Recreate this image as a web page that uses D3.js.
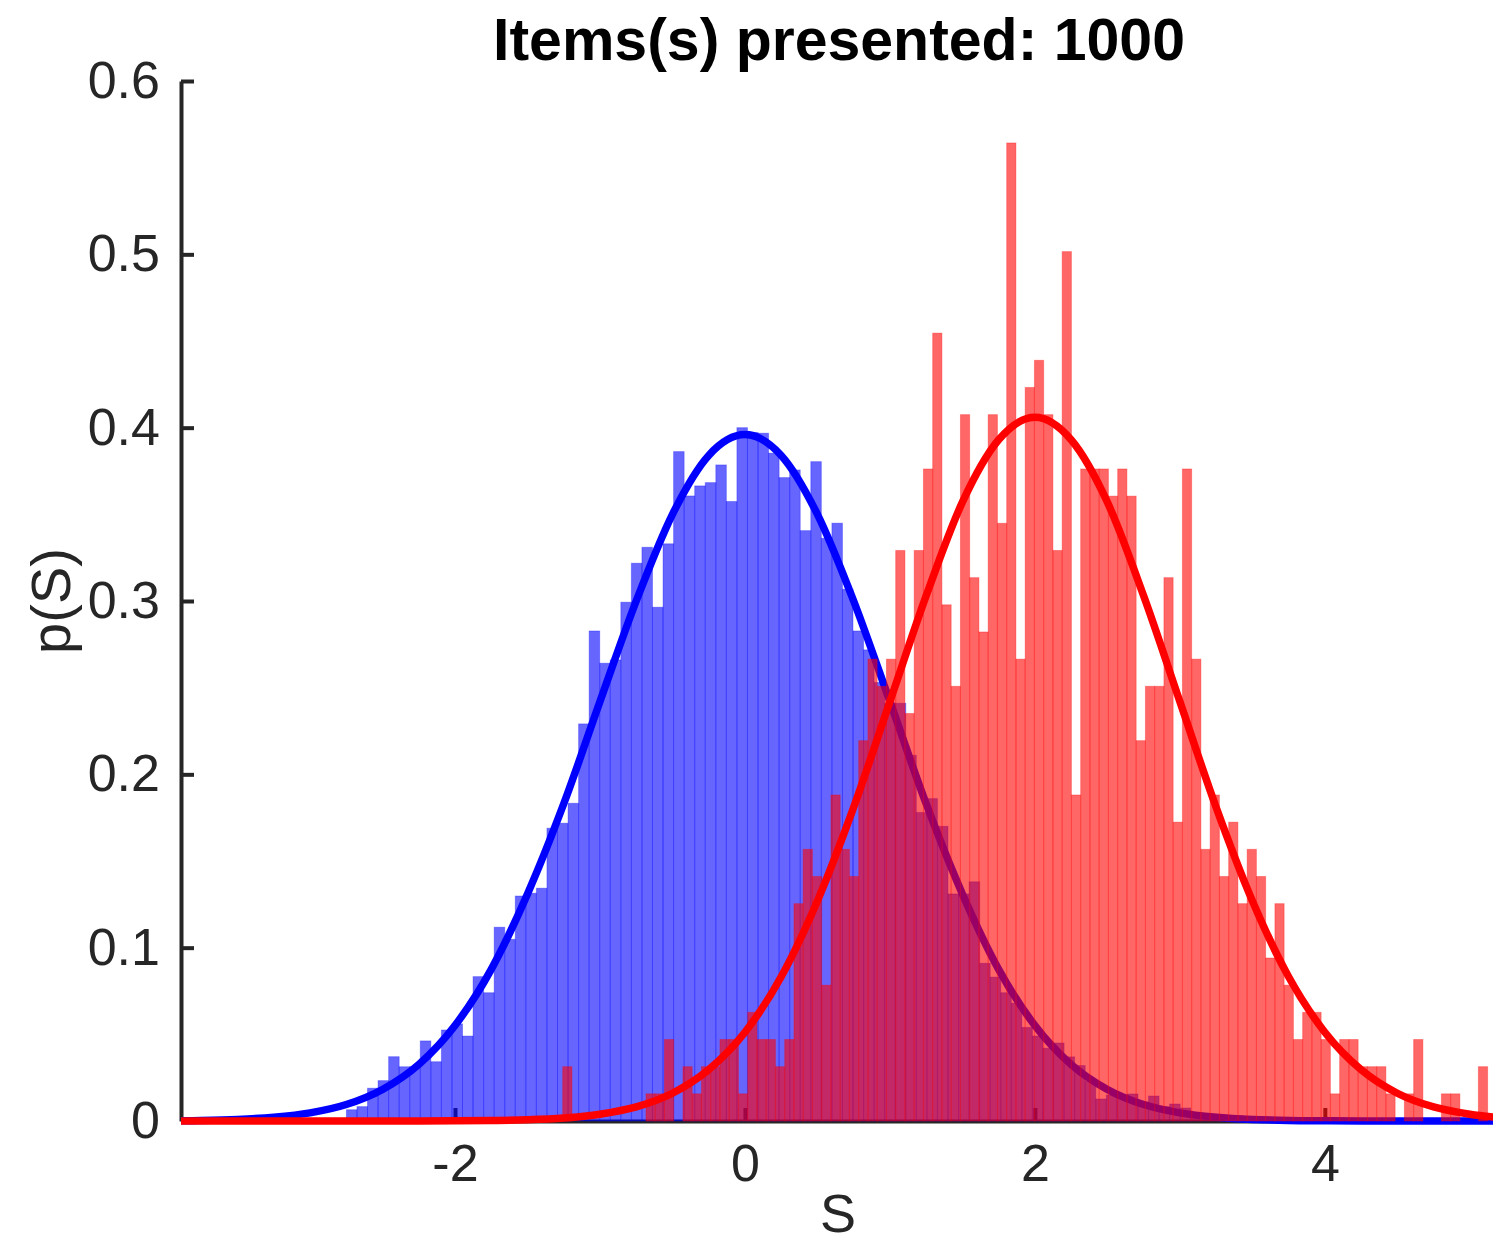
<!DOCTYPE html>
<html>
<head>
<meta charset="utf-8">
<script src="https://cdn.jsdelivr.net/npm/d3@7"></script>
<style>
  body { margin: 0; background: #fff; }
  text { font-family: "Liberation Sans", Arial, Helvetica, sans-serif; }
</style>
</head>
<body>
<svg id="chart" width="1493" height="1246"></svg>
<script>
// axis limits and ticks
var xLimits = [-3.89, 5.16];
var yLimits = [0, 0.6];
var xTicks = [-2, 0, 2, 4];
var yTicks = [0, 0.1, 0.2, 0.3, 0.4, 0.5, 0.6];

// blue histogram (pdf heights), 0.0728 wide bins starting at -2.749
var blueStart = -2.749, blueWidth = 0.0728;
var blueHeights = [
  0.0065, 0.0083, 0.0189, 0.0233, 0.0371, 0.0313, 0.0313, 0.0462, 0.0342, 0.0525,
  0.056, 0.049, 0.0833, 0.074, 0.1118, 0.1048, 0.1298, 0.1314, 0.1343, 0.1689,
  0.1718, 0.1833, 0.2291, 0.2827, 0.2641, 0.266, 0.2993, 0.3218, 0.331, 0.2964,
  0.333, 0.3862, 0.3606, 0.3664, 0.3683, 0.3785, 0.3574, 0.400, 0.3972, 0.3968,
  0.3853, 0.3712, 0.3756, 0.3406, 0.3804, 0.3362, 0.3449, 0.3068, 0.2827, 0.2718,
  0.253, 0.241, 0.241, 0.211, 0.178, 0.186, 0.17, 0.131, 0.131, 0.138,
  0.091, 0.083, 0.074, 0.068, 0.054, 0.049, 0.042, 0.045, 0.037, 0.032,
  0.023, 0.0127, 0.015, 0.015, 0.0156, 0.011, 0.0144, 0.0083, 0.0098, 0.0075,
  0.0046, 0.004, 0.0035, 0.003, 0.003, 0.0025, 0.002, 0.002, 0.0015, 0.0012,
  0.001, 0.0008, 0.0006
];

// red histogram (counts out of 1000), 0.0638 wide bins starting at -1.257
var redStart = -1.257, redWidth = 0.0638, redTotal = 1000;
var redCounts = [
  2, 0, 0, 0, 0, 0, 0, 0, 0, 1,
  1, 3, 0, 2, 1, 2, 2, 3, 3, 1,
  4, 3, 3, 2, 3, 8, 10, 9, 5, 12,
  10, 9, 14, 17, 16, 17, 21, 15, 21, 24,
  29, 19, 16, 26, 20, 18, 26, 22, 36, 17,
  27, 28, 26, 21, 32, 12, 24, 24, 24, 23,
  24, 23, 14, 16, 16, 20, 11, 24, 17, 10,
  12, 9, 11, 8, 10, 9, 6, 8, 5, 3,
  4, 4, 3, 1, 3, 3, 2, 2, 2, 1,
  0, 1, 3, 0, 0, 1, 1, 0, 0, 2
];

// fitted density curves, read at 0.25 steps
var curveX = [-4, -3.75, -3.5, -3.25, -3, -2.75, -2.5, -2.25, -2, -1.75,
  -1.5, -1.25, -1, -0.75, -0.5, -0.25, 0, 0.25, 0.5, 0.75,
  1, 1.25, 1.5, 1.75, 2, 2.25, 2.5, 2.75, 3, 3.25,
  3.5, 3.75, 4, 4.25, 4.5, 4.75, 5, 5.25];
var blueCurve = [0.0001, 0.0003, 0.0009, 0.0022, 0.0047, 0.0095, 0.0182, 0.0326, 0.0551, 0.0875,
  0.131, 0.183, 0.242, 0.300, 0.350, 0.384, 0.396, 0.384, 0.350, 0.300,
  0.242, 0.183, 0.131, 0.0875, 0.0551, 0.0326, 0.0182, 0.0095, 0.0047, 0.0022,
  0.0009, 0.0003, 0.0001, 0, 0, 0, 0, 0];
var redCurve = [0, 0, 0, 0, 0, 0, 0, 0, 0.0001, 0.0003,
  0.0007, 0.0017, 0.0039, 0.0081, 0.016, 0.0296, 0.0512, 0.0832, 0.127, 0.181,
  0.242, 0.303, 0.357, 0.393, 0.406, 0.393, 0.357, 0.303, 0.242, 0.181,
  0.127, 0.0832, 0.0512, 0.0296, 0.016, 0.0081, 0.0039, 0.0017];

var svg = d3.select("#chart");
var ink = "#262626";

var x = d3.scaleLinear().domain(xLimits).range([181, 1493]);
var y = d3.scaleLinear().domain(yLimits).range([1121, 81]);

svg.append("defs").append("clipPath").attr("id", "plot")
  .append("rect").attr("x", 181).attr("y", 0).attr("width", 1312).attr("height", 1246);

// axes go underneath the data (ticks point inward)
var yAxis = d3.axisLeft(y).tickValues(yTicks).tickSizeInner(-13).tickSizeOuter(0)
  .tickPadding(21).tickFormat(function(d) { return d === 0 ? "0" : d3.format(".1f")(d); });
var xAxis = d3.axisBottom(x).tickValues(xTicks).tickSizeInner(-13).tickSizeOuter(0)
  .tickPadding(23).tickFormat(function(d) { return String(d); });

var gy = svg.append("g").attr("transform", "translate(181,0)").call(yAxis);
var gx = svg.append("g").attr("transform", "translate(0,1121)").call(xAxis);
[gx, gy].forEach(function(g) {
  g.select(".domain").attr("stroke", ink).attr("stroke-width", 4);
  g.selectAll(".tick line").attr("stroke", ink).attr("stroke-width", 4);
  g.selectAll(".tick text").attr("fill", ink).style("font-size", "52px")
    .style("font-family", "'Liberation Sans', Arial, Helvetica, sans-serif");
});

var plot = svg.append("g").attr("clip-path", "url(#plot)");

function drawBars(heights, start, width, color) {
  var bins = heights.map(function(h, i) {
    return { x0: start + i * width, x1: start + (i + 1) * width, h: h };
  }).filter(function(d) { return d.h > 0; });
  plot.append("g").selectAll("rect").data(bins).join("rect")
    .attr("x", function(d) { return x(d.x0); })
    .attr("width", function(d) { return x(d.x1) - x(d.x0); })
    .attr("y", function(d) { return y(d.h); })
    .attr("height", function(d) { return y(0) - y(d.h); })
    .attr("fill", color).attr("fill-opacity", 0.6)
    .attr("stroke", color).attr("stroke-opacity", 0.3).attr("stroke-width", 1);
}

function drawCurve(values, color) {
  var line = d3.line()
    .x(function(d, i) { return x(curveX[i]); })
    .y(function(d) { return y(d); })
    .curve(d3.curveMonotoneX);
  plot.append("path").datum(values)
    .attr("d", line)
    .attr("fill", "none").attr("stroke", color)
    .attr("stroke-width", 7.5).attr("stroke-linejoin", "round").attr("stroke-linecap", "round");
}

var redHeights = redCounts.map(function(c) { return c / (redTotal * redWidth); });

drawBars(blueHeights, blueStart, blueWidth, "#0000ff");
drawCurve(blueCurve, "#0000ff");
drawBars(redHeights, redStart, redWidth, "#ff0000");
drawCurve(redCurve, "#ff0000");

// title and labels
svg.append("text").attr("x", 839).attr("y", 60).attr("text-anchor", "middle")
  .style("font-size", "59px").style("font-weight", "bold").attr("fill", "#000")
  .text("Items(s) presented: 1000");

svg.append("text").attr("x", 838).attr("y", 1232).attr("text-anchor", "middle")
  .style("font-size", "54px").attr("fill", ink).text("S");

svg.append("text").attr("transform", "translate(70,601) rotate(-90)").attr("text-anchor", "middle")
  .style("font-size", "56px").attr("fill", ink).text("p(S)");
</script>
</body>
</html>
